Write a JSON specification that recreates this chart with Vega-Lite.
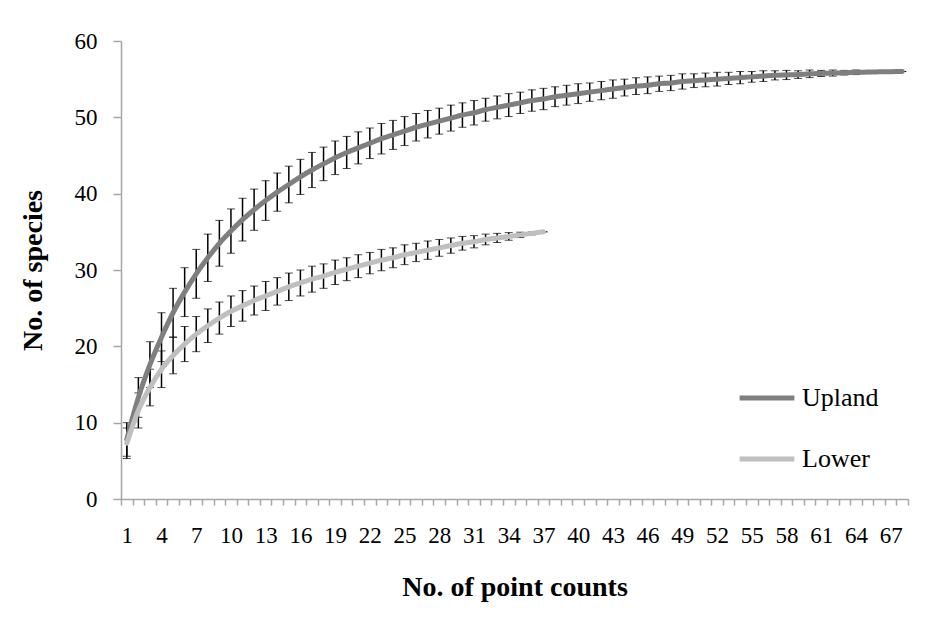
{
  "$schema": "https://vega.github.io/schema/vega-lite/v6.json",
  "width": 787,
  "height": 458,
  "autosize": "none",
  "padding": {"left": 121, "top": 41, "right": 30, "bottom": 144},
  "background": "white",
  "config": {
    "view": {"stroke": null},
    "font": "Liberation Serif",
    "axis": {"grid": false, "domainColor": "#a6a6a6", "domainWidth": 1.5, "tickColor": "#a6a6a6", "tickWidth": 1.5, "labelColor": "black", "titleColor": "black", "labelFont": "Liberation Serif", "titleFont": "Liberation Serif"}
  },
  "data": {
    "values": [
      {"series": "Upland", "n": 1, "mean": 7.8, "sd": 2.2},
      {"series": "Upland", "n": 2, "mean": 13.3, "sd": 2.6},
      {"series": "Upland", "n": 3, "mean": 17.6, "sd": 3.0},
      {"series": "Upland", "n": 4, "mean": 21.2, "sd": 3.2},
      {"series": "Upland", "n": 5, "mean": 24.4, "sd": 3.2},
      {"series": "Upland", "n": 6, "mean": 27.1, "sd": 3.2},
      {"series": "Upland", "n": 7, "mean": 29.5, "sd": 3.2},
      {"series": "Upland", "n": 8, "mean": 31.6, "sd": 3.1},
      {"series": "Upland", "n": 9, "mean": 33.5, "sd": 3.0},
      {"series": "Upland", "n": 10, "mean": 35.1, "sd": 2.9},
      {"series": "Upland", "n": 11, "mean": 36.6, "sd": 2.8},
      {"series": "Upland", "n": 12, "mean": 37.9, "sd": 2.7},
      {"series": "Upland", "n": 13, "mean": 39.1, "sd": 2.6},
      {"series": "Upland", "n": 14, "mean": 40.2, "sd": 2.5},
      {"series": "Upland", "n": 15, "mean": 41.2, "sd": 2.4},
      {"series": "Upland", "n": 16, "mean": 42.2, "sd": 2.3},
      {"series": "Upland", "n": 17, "mean": 43.1, "sd": 2.3},
      {"series": "Upland", "n": 18, "mean": 43.9, "sd": 2.2},
      {"series": "Upland", "n": 19, "mean": 44.7, "sd": 2.2},
      {"series": "Upland", "n": 20, "mean": 45.4, "sd": 2.1},
      {"series": "Upland", "n": 21, "mean": 46.0, "sd": 2.1},
      {"series": "Upland", "n": 22, "mean": 46.6, "sd": 2.0},
      {"series": "Upland", "n": 23, "mean": 47.2, "sd": 2.0},
      {"series": "Upland", "n": 24, "mean": 47.7, "sd": 1.9},
      {"series": "Upland", "n": 25, "mean": 48.2, "sd": 1.9},
      {"series": "Upland", "n": 26, "mean": 48.7, "sd": 1.8},
      {"series": "Upland", "n": 27, "mean": 49.1, "sd": 1.8},
      {"series": "Upland", "n": 28, "mean": 49.5, "sd": 1.7},
      {"series": "Upland", "n": 29, "mean": 49.9, "sd": 1.7},
      {"series": "Upland", "n": 30, "mean": 50.3, "sd": 1.6},
      {"series": "Upland", "n": 31, "mean": 50.6, "sd": 1.6},
      {"series": "Upland", "n": 32, "mean": 51.0, "sd": 1.5},
      {"series": "Upland", "n": 33, "mean": 51.3, "sd": 1.5},
      {"series": "Upland", "n": 34, "mean": 51.6, "sd": 1.5},
      {"series": "Upland", "n": 35, "mean": 51.9, "sd": 1.4},
      {"series": "Upland", "n": 36, "mean": 52.2, "sd": 1.4},
      {"series": "Upland", "n": 37, "mean": 52.4, "sd": 1.4},
      {"series": "Upland", "n": 38, "mean": 52.7, "sd": 1.3},
      {"series": "Upland", "n": 39, "mean": 52.9, "sd": 1.3},
      {"series": "Upland", "n": 40, "mean": 53.1, "sd": 1.3},
      {"series": "Upland", "n": 41, "mean": 53.3, "sd": 1.2},
      {"series": "Upland", "n": 42, "mean": 53.5, "sd": 1.2},
      {"series": "Upland", "n": 43, "mean": 53.7, "sd": 1.2},
      {"series": "Upland", "n": 44, "mean": 53.9, "sd": 1.1},
      {"series": "Upland", "n": 45, "mean": 54.1, "sd": 1.1},
      {"series": "Upland", "n": 46, "mean": 54.2, "sd": 1.1},
      {"series": "Upland", "n": 47, "mean": 54.4, "sd": 1.0},
      {"series": "Upland", "n": 48, "mean": 54.5, "sd": 1.0},
      {"series": "Upland", "n": 49, "mean": 54.7, "sd": 1.0},
      {"series": "Upland", "n": 50, "mean": 54.8, "sd": 0.9},
      {"series": "Upland", "n": 51, "mean": 54.9, "sd": 0.9},
      {"series": "Upland", "n": 52, "mean": 55.0, "sd": 0.9},
      {"series": "Upland", "n": 53, "mean": 55.1, "sd": 0.8},
      {"series": "Upland", "n": 54, "mean": 55.2, "sd": 0.8},
      {"series": "Upland", "n": 55, "mean": 55.3, "sd": 0.7},
      {"series": "Upland", "n": 56, "mean": 55.4, "sd": 0.7},
      {"series": "Upland", "n": 57, "mean": 55.5, "sd": 0.6},
      {"series": "Upland", "n": 58, "mean": 55.55, "sd": 0.6},
      {"series": "Upland", "n": 59, "mean": 55.6, "sd": 0.5},
      {"series": "Upland", "n": 60, "mean": 55.7, "sd": 0.5},
      {"series": "Upland", "n": 61, "mean": 55.75, "sd": 0.4},
      {"series": "Upland", "n": 62, "mean": 55.8, "sd": 0.4},
      {"series": "Upland", "n": 63, "mean": 55.85, "sd": 0.3},
      {"series": "Upland", "n": 64, "mean": 55.9, "sd": 0.3},
      {"series": "Upland", "n": 65, "mean": 55.93, "sd": 0.2},
      {"series": "Upland", "n": 66, "mean": 55.96, "sd": 0.15},
      {"series": "Upland", "n": 67, "mean": 55.98, "sd": 0.1},
      {"series": "Upland", "n": 68, "mean": 56.0, "sd": 0.0},
      {"series": "Lower", "n": 1, "mean": 7.3, "sd": 2.0},
      {"series": "Lower", "n": 2, "mean": 11.6, "sd": 2.3},
      {"series": "Lower", "n": 3, "mean": 14.6, "sd": 2.4},
      {"series": "Lower", "n": 4, "mean": 17.0, "sd": 2.4},
      {"series": "Lower", "n": 5, "mean": 18.8, "sd": 2.4},
      {"series": "Lower", "n": 6, "mean": 20.3, "sd": 2.3},
      {"series": "Lower", "n": 7, "mean": 21.6, "sd": 2.3},
      {"series": "Lower", "n": 8, "mean": 22.7, "sd": 2.2},
      {"series": "Lower", "n": 9, "mean": 23.7, "sd": 2.1},
      {"series": "Lower", "n": 10, "mean": 24.6, "sd": 2.0},
      {"series": "Lower", "n": 11, "mean": 25.3, "sd": 2.0},
      {"series": "Lower", "n": 12, "mean": 26.0, "sd": 1.9},
      {"series": "Lower", "n": 13, "mean": 26.6, "sd": 1.9},
      {"series": "Lower", "n": 14, "mean": 27.2, "sd": 1.8},
      {"series": "Lower", "n": 15, "mean": 27.8, "sd": 1.8},
      {"series": "Lower", "n": 16, "mean": 28.3, "sd": 1.7},
      {"series": "Lower", "n": 17, "mean": 28.8, "sd": 1.7},
      {"series": "Lower", "n": 18, "mean": 29.2, "sd": 1.6},
      {"series": "Lower", "n": 19, "mean": 29.7, "sd": 1.6},
      {"series": "Lower", "n": 20, "mean": 30.1, "sd": 1.5},
      {"series": "Lower", "n": 21, "mean": 30.5, "sd": 1.5},
      {"series": "Lower", "n": 22, "mean": 30.9, "sd": 1.4},
      {"series": "Lower", "n": 23, "mean": 31.3, "sd": 1.4},
      {"series": "Lower", "n": 24, "mean": 31.6, "sd": 1.3},
      {"series": "Lower", "n": 25, "mean": 32.0, "sd": 1.3},
      {"series": "Lower", "n": 26, "mean": 32.3, "sd": 1.2},
      {"series": "Lower", "n": 27, "mean": 32.6, "sd": 1.2},
      {"series": "Lower", "n": 28, "mean": 32.9, "sd": 1.1},
      {"series": "Lower", "n": 29, "mean": 33.2, "sd": 1.0},
      {"series": "Lower", "n": 30, "mean": 33.5, "sd": 0.9},
      {"series": "Lower", "n": 31, "mean": 33.7, "sd": 0.8},
      {"series": "Lower", "n": 32, "mean": 34.0, "sd": 0.7},
      {"series": "Lower", "n": 33, "mean": 34.2, "sd": 0.6},
      {"series": "Lower", "n": 34, "mean": 34.4, "sd": 0.5},
      {"series": "Lower", "n": 35, "mean": 34.6, "sd": 0.35},
      {"series": "Lower", "n": 36, "mean": 34.8, "sd": 0.2},
      {"series": "Lower", "n": 37, "mean": 35.0, "sd": 0.0}
    ]
  },
  "encoding": {
    "x": {
      "field": "n", "type": "quantitative",
      "scale": {"domain": [0.5, 68.5], "nice": false, "zero": false},
      "axis": {
        "title": "No. of point counts",
        "titleFontSize": 28, "titleFontWeight": "bold", "titlePadding": 26,
        "values": [0.5,1.5,2.5,3.5,4.5,5.5,6.5,7.5,8.5,9.5,10.5,11.5,12.5,13.5,14.5,15.5,16.5,17.5,18.5,19.5,20.5,21.5,22.5,23.5,24.5,25.5,26.5,27.5,28.5,29.5,30.5,31.5,32.5,33.5,34.5,35.5,36.5,37.5,38.5,39.5,40.5,41.5,42.5,43.5,44.5,45.5,46.5,47.5,48.5,49.5,50.5,51.5,52.5,53.5,54.5,55.5,56.5,57.5,58.5,59.5,60.5,61.5,62.5,63.5,64.5,65.5,66.5,67.5,68.5],
        "labelExpr": "((datum.value - 0.5) % 3 == 0 && datum.value < 68) ? format(datum.value + 0.5, 'd') : ''",
        "labelOffset": 5.79,
        "labelOverlap": false,
        "labelFlush": false,
        "labelFontSize": 23,
        "labelPadding": 19,
        "tickSize": 6
      }
    },
    "y": {
      "field": "mean", "type": "quantitative",
      "scale": {"domain": [0, 60], "nice": false},
      "axis": {
        "title": "No. of species",
        "titleFontSize": 28, "titleFontWeight": "bold", "titlePadding": 27,
        "values": [0, 10, 20, 30, 40, 50, 60],
        "labelFontSize": 23, "labelPadding": 16, "tickSize": 8
      }
    }
  },
  "layer": [
    {
      "mark": {"type": "errorbar", "ticks": {"size": 8, "color": "black", "strokeWidth": 1.5}, "rule": {"color": "black", "strokeWidth": 1.5}},
      "encoding": {
        "yError": {"field": "sd"},
        "detail": {"field": "series"}
      }
    },
    {
      "mark": {"type": "line", "strokeWidth": 5, "interpolate": "monotone", "strokeCap": "round"},
      "encoding": {
        "color": {
          "field": "series", "type": "nominal",
          "scale": {"domain": ["Upland", "Lower"], "range": ["#7f7f7f", "#bfbfbf"]},
          "legend": {
            "orient": "none", "legendX": 616, "legendY": 327, "title": null,
            "symbolType": "stroke", "symbolSize": 3000, "symbolStrokeWidth": 5,
            "labelFontSize": 26, "labelFont": "Liberation Serif", "labelColor": "black",
            "labelOffset": 5, "rowPadding": 18, "padding": 0
          }
        }
      }
    }
  ]
}
